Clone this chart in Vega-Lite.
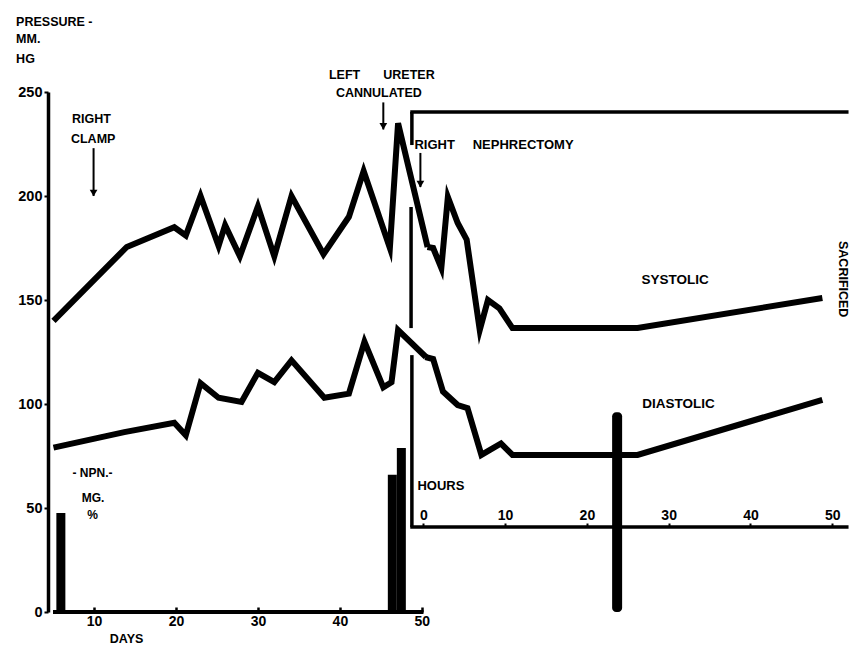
{
  "$schema": "https://vega.github.io/schema/vega-lite/v6.json",
  "width": 803,
  "height": 520,
  "autosize": {"type": "none"},
  "padding": {"left": 48, "top": 92, "right": 0, "bottom": 34},
  "background": "white",
  "config": {
    "view": {"stroke": null},
    "axis": {"grid": false, "labelFont": "Liberation Sans", "labelFontWeight": "bold", "labelColor": "black", "domainColor": "black", "tickColor": "black", "title": null},
    "text": {"font": "Liberation Sans", "fontWeight": "bold", "fontSize": 12, "color": "black"}
  },
  "datasets": {
    "days": [
      {"series": "systolic", "day": 5.06, "p": 140},
      {"series": "systolic", "day": 14.0, "p": 175.5},
      {"series": "systolic", "day": 19.8, "p": 185},
      {"series": "systolic", "day": 21.2, "p": 181},
      {"series": "systolic", "day": 23.0, "p": 200},
      {"series": "systolic", "day": 25.2, "p": 176},
      {"series": "systolic", "day": 26.0, "p": 186},
      {"series": "systolic", "day": 27.8, "p": 171},
      {"series": "systolic", "day": 30.0, "p": 195},
      {"series": "systolic", "day": 32.0, "p": 171},
      {"series": "systolic", "day": 34.1, "p": 200},
      {"series": "systolic", "day": 38.0, "p": 172},
      {"series": "systolic", "day": 41.1, "p": 190},
      {"series": "systolic", "day": 42.9, "p": 212},
      {"series": "systolic", "day": 46.1, "p": 175},
      {"series": "systolic", "day": 47.1, "p": 235},
      {"series": "systolic", "day": 50.7, "p": 175.5},
      {"series": "diastolic", "day": 5.06, "p": 79},
      {"series": "diastolic", "day": 13.7, "p": 86.5},
      {"series": "diastolic", "day": 19.8, "p": 91},
      {"series": "diastolic", "day": 21.2, "p": 85},
      {"series": "diastolic", "day": 23.0, "p": 110},
      {"series": "diastolic", "day": 25.2, "p": 103},
      {"series": "diastolic", "day": 28.0, "p": 101},
      {"series": "diastolic", "day": 30.0, "p": 115},
      {"series": "diastolic", "day": 32.0, "p": 110.5},
      {"series": "diastolic", "day": 34.1, "p": 121},
      {"series": "diastolic", "day": 38.1, "p": 103},
      {"series": "diastolic", "day": 41.1, "p": 105},
      {"series": "diastolic", "day": 43.0, "p": 130},
      {"series": "diastolic", "day": 45.3, "p": 108},
      {"series": "diastolic", "day": 46.3, "p": 110.5},
      {"series": "diastolic", "day": 47.1, "p": 135.5},
      {"series": "diastolic", "day": 50.5, "p": 122.6}
    ],
    "hours": [
      {"series": "systolic", "hour": 0.5, "p": 175.5},
      {"series": "systolic", "hour": 1.2, "p": 175},
      {"series": "systolic", "hour": 2.2, "p": 165.4},
      {"series": "systolic", "hour": 3.0, "p": 199.5},
      {"series": "systolic", "hour": 4.2, "p": 187},
      {"series": "systolic", "hour": 5.3, "p": 179},
      {"series": "systolic", "hour": 6.9, "p": 135.6},
      {"series": "systolic", "hour": 7.9, "p": 150},
      {"series": "systolic", "hour": 9.3, "p": 146},
      {"series": "systolic", "hour": 10.9, "p": 136.5},
      {"series": "systolic", "hour": 26.2, "p": 136.5},
      {"series": "systolic", "hour": 48.8, "p": 151},
      {"series": "diastolic", "hour": 0.24, "p": 122.6},
      {"series": "diastolic", "hour": 1.2, "p": 121.6},
      {"series": "diastolic", "hour": 2.4, "p": 106},
      {"series": "diastolic", "hour": 4.2, "p": 99.5},
      {"series": "diastolic", "hour": 5.4, "p": 98},
      {"series": "diastolic", "hour": 7.1, "p": 75.5},
      {"series": "diastolic", "hour": 9.5, "p": 81},
      {"series": "diastolic", "hour": 10.9, "p": 75.5},
      {"series": "diastolic", "hour": 26.2, "p": 75.5},
      {"series": "diastolic", "hour": 48.8, "p": 102}
    ],
    "npnDays": [
      {"day": 5.96, "v": 47.6},
      {"day": 46.4, "v": 66},
      {"day": 47.5, "v": 78.8}
    ],
    "npnHours": [
      {"hour": 23.7, "v": 96}
    ],
    "frameV": [
      {"h": -1.4, "p1": 240.4, "p2": 224.5},
      {"h": -1.5, "p1": 194.7, "p2": 136.5},
      {"h": -1.4, "p1": 123.5, "p2": 40.9}
    ],
    "frameH": [
      {"h1": -1.6, "h2": 52, "p": 240.4},
      {"h1": -1.6, "h2": 52, "p": 40.9}
    ],
    "arrowsDays": [
      {"day": 9.95, "p1": 223, "p2": 200},
      {"day": 45.3, "p1": 245, "p2": 232}
    ],
    "arrowsHours": [
      {"hour": -0.36, "p1": 220.7, "p2": 204.3}
    ]
  },
  "layer": [
    {
      "layer": [
        {
          "data": {"name": "days"},
          "mark": {"type": "line", "color": "black", "strokeWidth": 6, "strokeJoin": "miter", "strokeMiterLimit": 6},
          "encoding": {
            "x": {"field": "day", "type": "quantitative", "scale": {"domain": [5, 101.75], "nice": false, "zero": false},
                  "axis": {"orient": "bottom", "values": [10, 20, 30, 40, 50], "domain": false, "tickSize": -5, "tickWidth": 2.5, "labelFontSize": 14, "labelPadding": 7, "labelFlush": false}},
            "y": {"field": "p", "type": "quantitative", "scale": {"domain": [0, 250], "nice": false, "zero": false},
                  "axis": {"orient": "left", "values": [0, 50, 100, 150, 200, 250], "domain": true, "domainWidth": 3.5, "tickSize": 4, "tickWidth": 2, "labelFontSize": 14.5, "labelPadding": 2}},
            "detail": {"field": "series"}
          }
        },
        {
          "data": {"name": "npnDays"},
          "mark": {"type": "bar", "color": "black", "size": 9, "cornerRadiusTop": 4},
          "encoding": {
            "x": {"field": "day", "type": "quantitative"},
            "y": {"field": "v", "type": "quantitative", "stack": null}
          }
        },
        {
          "data": {"values": [{"from": 5, "to": 50.2, "level": 0}]},
          "mark": {"type": "rule", "color": "black", "strokeWidth": 4},
          "encoding": {
            "x": {"field": "from", "type": "quantitative"},
            "x2": {"field": "to"},
            "y": {"field": "level", "type": "quantitative"}
          }
        },
        {
          "data": {"name": "arrowsDays"},
          "mark": {"type": "rule", "color": "black", "strokeWidth": 2},
          "encoding": {
            "x": {"field": "day", "type": "quantitative"},
            "y": {"field": "p1", "type": "quantitative"},
            "y2": {"field": "p2"}
          }
        },
        {
          "data": {"name": "arrowsDays"},
          "mark": {"type": "point", "shape": "triangle-down", "filled": true, "color": "black", "size": 60, "opacity": 1, "yOffset": -3},
          "encoding": {
            "x": {"field": "day", "type": "quantitative"},
            "y": {"field": "p2", "type": "quantitative"}
          }
        },
        {
          "data": {"values": [
            {"t": "PRESSURE -", "day": 0.5, "p": 283.6},
            {"t": "MM.", "day": 0.5, "p": 275.5},
            {"t": "HG", "day": 0.5, "p": 265.9},
            {"t": "LEFT", "day": 38.67, "p": 258},
            {"t": "URETER", "day": 45.3, "p": 258}
          ]},
          "mark": {"type": "text", "align": "left", "baseline": "middle", "fontSize": 12.5},
          "encoding": {
            "x": {"field": "day", "type": "quantitative"},
            "y": {"field": "p", "type": "quantitative"},
            "text": {"field": "t"}
          }
        },
        {
          "data": {"values": [
            {"t": "RIGHT", "day": 9.7, "p": 237},
            {"t": "CLAMP", "day": 9.9, "p": 227.4},
            {"t": "CANNULATED", "day": 44.76, "p": 249.5},
            {"t": "DAYS", "day": 13.98, "p": -12.8}
          ]},
          "mark": {"type": "text", "align": "center", "baseline": "middle", "fontSize": 12.5},
          "encoding": {
            "x": {"field": "day", "type": "quantitative"},
            "y": {"field": "p", "type": "quantitative"},
            "text": {"field": "t"}
          }
        },
        {
          "data": {"values": [
            {"t": "- NPN.-", "day": 9.82, "p": 66.8},
            {"t": "MG.", "day": 9.88, "p": 54.8},
            {"t": "%", "day": 9.82, "p": 46.6}
          ]},
          "mark": {"type": "text", "align": "center", "baseline": "middle", "fontSize": 12},
          "encoding": {
            "x": {"field": "day", "type": "quantitative"},
            "y": {"field": "p", "type": "quantitative"},
            "text": {"field": "t"}
          }
        }
      ]
    },
    {
      "layer": [
        {
          "data": {"name": "hours"},
          "mark": {"type": "line", "color": "black", "strokeWidth": 6, "strokeJoin": "miter", "strokeMiterLimit": 6},
          "encoding": {
            "x": {"field": "hour", "type": "quantitative", "scale": {"domain": [-45.29, 51.69], "nice": false, "zero": false},
                  "axis": {"orient": "top", "offset": -435, "values": [0, 10, 20, 30, 40, 50], "domain": false, "tickSize": 4, "tickWidth": 2, "labelFontSize": 14, "labelPadding": 1, "labelFlush": false}},
            "y": {"field": "p", "type": "quantitative", "axis": null},
            "detail": {"field": "series"}
          }
        },
        {
          "data": {"name": "npnHours"},
          "mark": {"type": "bar", "color": "black", "size": 10, "cornerRadius": 4},
          "encoding": {
            "x": {"field": "hour", "type": "quantitative"},
            "y": {"field": "v", "type": "quantitative", "stack": null, "axis": null}
          }
        },
        {
          "data": {"name": "frameV"},
          "mark": {"type": "rule", "color": "black", "strokeWidth": 3.5},
          "encoding": {
            "x": {"field": "h", "type": "quantitative"},
            "y": {"field": "p1", "type": "quantitative", "axis": null},
            "y2": {"field": "p2"}
          }
        },
        {
          "data": {"name": "frameH"},
          "mark": {"type": "rule", "color": "black", "strokeWidth": 3.5},
          "encoding": {
            "x": {"field": "h1", "type": "quantitative"},
            "x2": {"field": "h2"},
            "y": {"field": "p", "type": "quantitative", "axis": null}
          }
        },
        {
          "data": {"name": "arrowsHours"},
          "mark": {"type": "rule", "color": "black", "strokeWidth": 2},
          "encoding": {
            "x": {"field": "hour", "type": "quantitative"},
            "y": {"field": "p1", "type": "quantitative", "axis": null},
            "y2": {"field": "p2"}
          }
        },
        {
          "data": {"name": "arrowsHours"},
          "mark": {"type": "point", "shape": "triangle-down", "filled": true, "color": "black", "size": 60, "opacity": 1, "yOffset": -3},
          "encoding": {
            "x": {"field": "hour", "type": "quantitative"},
            "y": {"field": "p2", "type": "quantitative", "axis": null}
          }
        },
        {
          "data": {"values": [
            {"t": "RIGHT", "hour": -1.09, "p": 224.5},
            {"t": "NEPHRECTOMY", "hour": 6.04, "p": 224.5},
            {"t": "HOURS", "hour": -0.72, "p": 60.6}
          ]},
          "mark": {"type": "text", "align": "left", "baseline": "middle", "fontSize": 13},
          "encoding": {
            "x": {"field": "hour", "type": "quantitative"},
            "y": {"field": "p", "type": "quantitative", "axis": null},
            "text": {"field": "t"}
          }
        },
        {
          "data": {"values": [
            {"t": "SYSTOLIC", "hour": 30.8, "p": 159.6},
            {"t": "DIASTOLIC", "hour": 31.2, "p": 100}
          ]},
          "mark": {"type": "text", "align": "center", "baseline": "middle", "fontSize": 13.5},
          "encoding": {
            "x": {"field": "hour", "type": "quantitative"},
            "y": {"field": "p", "type": "quantitative", "axis": null},
            "text": {"field": "t"}
          }
        },
        {
          "data": {"values": [
            {"t": "SACRIFICED", "hour": 51.3, "p": 160}
          ]},
          "mark": {"type": "text", "align": "center", "baseline": "middle", "fontSize": 12.5, "angle": 90},
          "encoding": {
            "x": {"field": "hour", "type": "quantitative"},
            "y": {"field": "p", "type": "quantitative", "axis": null},
            "text": {"field": "t"}
          }
        }
      ]
    }
  ],
  "resolve": {"scale": {"x": "independent"}, "axis": {"x": "independent", "y": "independent"}}
}
